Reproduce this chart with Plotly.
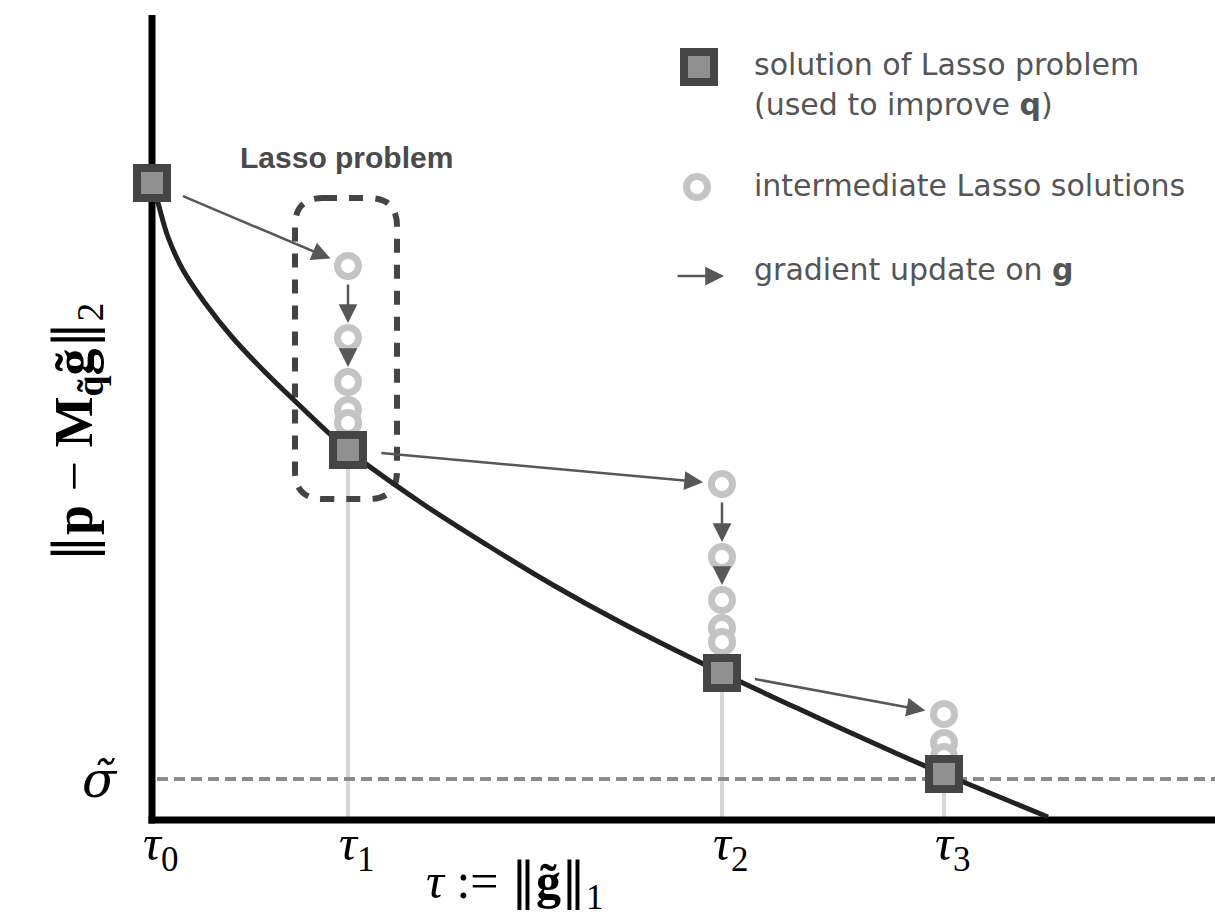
import plotly.graph_objects as go

# --- data -------------------------------------------------------------
# l1 budgets of the successive Lasso problems and the residual reached
TAU = [0.00, 1.96, 5.70, 7.92]
SOLUTION_RESID = [6.37, 3.70, 1.47, 0.46]
TAU_LABELS = ["<i>τ</i><sub>0</sub>", "<i>τ</i><sub>1</sub>",
              "<i>τ</i><sub>2</sub>", "<i>τ</i><sub>3</sub>"]

# Pareto curve  ||p - M g||_2  versus  tau
CURVE_TAU = [0.00, 0.06, 0.16, 0.31, 0.53, 0.80, 1.11, 1.45, 1.96, 2.68,
             3.35, 4.01, 4.68, 5.70, 6.60, 7.48, 7.92, 8.96]
CURVE_RESID = [6.37, 6.17, 5.83, 5.50, 5.17, 4.83, 4.50, 4.17, 3.70, 3.18,
               2.75, 2.35, 1.98, 1.47, 1.05, 0.65, 0.46, 0.03]

# intermediate iterates of the Lasso solver for tau_1, tau_2, tau_3
INTER_RESID_1 = [5.54, 4.82, 4.38, 4.10, 3.97]
INTER_RESID_2 = [3.36, 2.63, 2.20, 1.92, 1.78]
INTER_RESID_3 = [1.06, 0.77, 0.63]

SIGMA = 0.41  # target residual level

# --- styling ----------------------------------------------------------
SQ_FILL, SQ_EDGE = "#909090", "#454545"
RING = "#c4c4c4"
ARROW = "#575757"
TEXT = "#555555"
MATH_FONT = "Liberation Serif"
SANS = "DejaVu Sans"
NORM = '<span style="font-family:DejaVu Serif">‖</span>'

fig = go.Figure()

# Pareto curve
fig.add_trace(go.Scatter(
    x=CURVE_TAU, y=CURVE_RESID, mode="lines",
    line=dict(color="#222222", width=5, shape="spline", smoothing=1.0),
    hoverinfo="skip"))

# intermediate solutions (white-filled rings, stacked top to bottom)
inter_x, inter_y = [], []
for t, ys in zip(TAU[1:], [INTER_RESID_1, INTER_RESID_2, INTER_RESID_3]):
    inter_x += [t] * len(ys)
    inter_y += ys
fig.add_trace(go.Scatter(
    x=inter_x, y=inter_y, mode="markers", cliponaxis=False,
    marker=dict(symbol="circle", size=21, color="white",
                line=dict(color=RING, width=7)),
    hoverinfo="skip"))

# Lasso solutions
fig.add_trace(go.Scatter(
    x=TAU, y=SOLUTION_RESID, mode="markers", cliponaxis=False,
    marker=dict(symbol="square", size=30, color=SQ_FILL,
                line=dict(color=SQ_EDGE, width=8)),
    hoverinfo="skip"))

# --- legend marks -----------------------------------------------------
LEG_MARK_X = 5.47
LEG_TEXT_X = 6.00
fig.add_trace(go.Scatter(
    x=[LEG_MARK_X], y=[7.53], mode="markers", cliponaxis=False,
    marker=dict(symbol="square", size=30, color=SQ_FILL,
                line=dict(color=SQ_EDGE, width=8)), hoverinfo="skip"))
fig.add_trace(go.Scatter(
    x=[LEG_MARK_X - 0.02], y=[6.33], mode="markers", cliponaxis=False,
    marker=dict(symbol="circle", size=21, color="white",
                line=dict(color=RING, width=7)), hoverinfo="skip"))

shapes = []
# drop lines from each solution to the tau axis
for t, r in zip(TAU[1:], SOLUTION_RESID[1:]):
    shapes.append(dict(type="line", x0=t, x1=t, y0=0, y1=r, layer="below",
                       line=dict(color="#d6d6d6", width=4)))
# sigma level
shapes.append(dict(type="line", x0=0.05, x1=10.7, y0=SIGMA, y1=SIGMA,
                   layer="below",
                   line=dict(color="#8a8a8a", width=4, dash="11px,6px")))
# dashed rounded box around the first Lasso problem
bx0, bx1, by0, by1, rr = 1.43, 2.45, 3.21, 6.22, 0.28
box_path = (f"M {bx0+rr},{by1} L {bx1-rr},{by1} Q {bx1},{by1} {bx1},{by1-rr} "
            f"L {bx1},{by0+rr} Q {bx1},{by0} {bx1-rr},{by0} "
            f"L {bx0+rr},{by0} Q {bx0},{by0} {bx0},{by0+rr} "
            f"L {bx0},{by1-rr} Q {bx0},{by1} {bx0+rr},{by1} Z")
shapes.append(dict(type="path", path=box_path, layer="below",
                   line=dict(color="#444444", width=6, dash="14px,12px")))
# axes
shapes.append(dict(type="line", x0=-0.035, x1=10.7, y0=0, y1=0, layer="below",
                   line=dict(color="black", width=7)))
shapes.append(dict(type="line", x0=0, x1=0, y0=-0.035, y1=8.05, layer="below",
                   line=dict(color="black", width=7)))

annotations = []


def arrow(x0, y0, x1, y1, start_gap, end_gap):
    return dict(x=x1, y=y1, ax=x0, ay=y0, xref="x", yref="y",
                axref="x", ayref="y", text="", showarrow=True,
                arrowhead=2, arrowsize=1.5, arrowwidth=2.5,
                arrowcolor=ARROW, standoff=end_gap, startstandoff=start_gap)


# gradient updates: solution -> first iterate of the next Lasso problem
for k, inter in enumerate([INTER_RESID_1, INTER_RESID_2, INTER_RESID_3]):
    annotations.append(arrow(TAU[k], SOLUTION_RESID[k],
                             TAU[k + 1], inter[0], 32, 19))
# solver steps between the first iterates
for t, inter in zip(TAU[1:3], [INTER_RESID_1, INTER_RESID_2]):
    for a, b in zip(inter[:2], inter[1:3]):
        annotations.append(arrow(t, a, t, b, 17, 15))

# legend arrow
annotations.append(arrow(LEG_MARK_X - 0.23, 5.44, LEG_MARK_X + 0.25, 5.44, 0, 0))

# text
annotations.append(dict(x=1.94, y=6.63, text="<b>Lasso problem</b>",
                        showarrow=False,
                        font=dict(family="Liberation Sans", size=30, color="#4a4a4a")))
legend_lines = [
    (7.56, "solution of Lasso problem"),
    (7.16, "(used to improve <b>q</b>)"),
    (6.35, "intermediate Lasso solutions"),
    (5.51, "gradient update on <b>g</b>"),
]
for y, txt in legend_lines:
    annotations.append(dict(x=LEG_TEXT_X, y=y, text=txt, showarrow=False,
                            xanchor="left", yanchor="middle",
                            font=dict(family=SANS, size=30, color=TEXT)))

math = dict(family=MATH_FONT, size=50, color="black")
# tick labels on the tau axis
for t, lab in zip(TAU, TAU_LABELS):
    annotations.append(dict(x=t, y=-0.27, text=lab, showarrow=False,
                            xshift=8, font=math))
# sigma tick label
annotations.append(dict(x=-0.52, y=SIGMA, text="<i>σ̃</i>", showarrow=False,
                        yshift=-1,
                        font=dict(family="DejaVu Serif", size=50,
                                  color="black")))
# axis titles
annotations.append(dict(x=3.63, y=-0.64,
                        text=f"<i>τ</i> := {NORM}<b>g̃</b>{NORM}<sub>1</sub>",
                        showarrow=False, font=math))
annotations.append(dict(x=-0.76, y=3.87, textangle=-90,
                        text=(f"{NORM}<b>p</b> − <b>M</b><sub><b>q̃</b></sub>"
                              f"<b>g̃</b>{NORM}<sub>2</sub>"),
                        showarrow=False,
                        font=dict(family=MATH_FONT, size=54, color="black")))

fig.update_layout(
    width=1215, height=920, autosize=False,
    margin=dict(l=0, r=0, t=0, b=0),
    paper_bgcolor="white", plot_bgcolor="white",
    showlegend=False,
    xaxis=dict(visible=False, range=[-1.52, 10.63], fixedrange=True),
    yaxis=dict(visible=False, range=[-1.00, 8.20], fixedrange=True),
    shapes=shapes, annotations=annotations,
)

fig.write_html("out.html", config={"displayModeBar": False})
